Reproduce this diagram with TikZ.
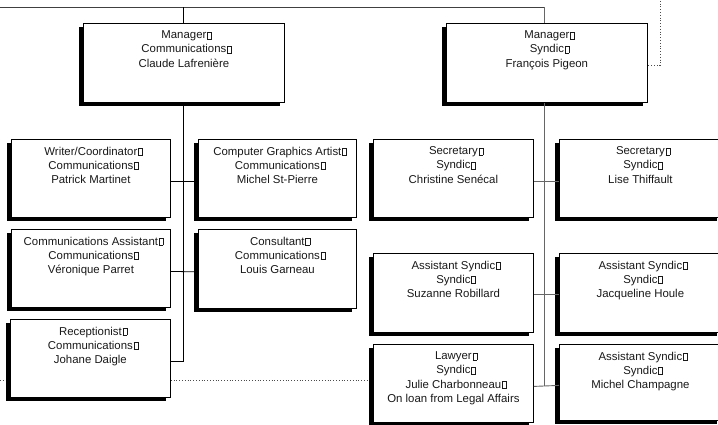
\documentclass[tikz,border=0pt]{standalone}
\usepackage{fontspec}
\setmainfont{Liberation Sans}
\pgfdeclarelayer{bgz}
\pgfsetlayers{bgz,main}
\newcommand\tf{\rlap{\kern0.8pt\setlength\fboxrule{0.5pt}\setlength\fboxsep{0pt}\fbox{\rule{0pt}{6.6pt}\hspace{3.6pt}}}}
\tikzset{
  box/.style={draw=black, line width=0.8pt, fill=white, rectangle, inner sep=0pt, anchor=north west},
  txt/.style={align=center, inner sep=0pt, anchor=north, font=\fontsize{11.4}{14.2}\selectfont, text=black!90},
  connL/.style={draw=black, line width=0.8pt},
  connR/.style={draw=black!60, line width=0.9pt},
  connT/.style={draw=black!75, line width=1pt},
  dotline/.style={draw=black!70, line width=0.8pt, dotted},
}
\newcommand\obox[6]{%
  \path[fill=black] (#2,#3) ++(-4,4) rectangle ++(#4,#5);
  \node[box, minimum width=#4pt, minimum height=#5pt] (#1) at (#2,#3) {};
  \node[txt] (#1t) at ([yshift=-7.6pt]#1.north) {#6};
}
\begin{document}
\begin{tikzpicture}[x=1pt,y=-1pt]
\useasboundingbox (0,0) rectangle (718,424);
\begin{pgfonlayer}{bgz}
\fill[white] (0,0) rectangle (718,424);
\end{pgfonlayer}

% boxes
\obox{M1}{83}{23}{201}{79}{Manager\tf\\Communications\tf\\Claude Lafrenière}
\obox{M2}{446}{23}{201}{79}{Manager\tf\\Syndic\tf\\François Pigeon}

\obox{L1}{11}{139}{159}{78}{Writer/Coordinator\tf\\Communications\tf\\Patrick Martinet}
\obox{R1}{198}{139}{158}{78}{Computer Graphics Artist\tf\\Communications\tf\\Michel St-Pierre}
\obox{L2}{11}{229}{159}{78}{Communications Assistant\tf\\Communications\tf\\Véronique Parret}
\obox{R2}{198}{229}{158}{79}{Consultant\tf\\Communications\tf\\Louis Garneau}
\obox{L3}{10}{319}{160}{78}{Receptionist\tf\\Communications\tf\\Johane Daigle}

\obox{S1}{373}{139}{160}{78}{Secretary\tf\\Syndic\tf\\Christine Senécal}
\obox{S2}{559}{139}{162}{78}{Secretary\tf\\Syndic\tf\\Lise Thiffault}
\obox{S3}{373}{253}{160}{79}{Assistant Syndic\tf\\Syndic\tf\\Suzanne Robillard}
\obox{S4}{559}{253}{162}{79}{Assistant Syndic\tf\\Syndic\tf\\Jacqueline Houle}
\obox{S5}{373}{344}{160}{78}{Lawyer\tf\\Syndic\tf\\Julie Charbonneau\tf\\On loan from Legal Affairs}
\obox{S6}{559}{344}{162}{76}{Assistant Syndic\tf\\Syndic\tf\\Michel Champagne}

% top line
\coordinate (tl) at (0,7);
\coordinate (tm) at (183,7);
\coordinate (tr) at (544,7);
\draw[connT] (tl) -- (tr);
\draw[connL] (tm) -- (tm |- M1.north);
\draw[connR] (tr) -- (tr |- M2.north);

% left tree
\draw[connL] (tm |- M1.south) |- ([yshift=-3pt]L3.east);
\draw[connL] ([yshift=-3pt]L1.east) -- ([yshift=-3pt]R1.west);
\draw[connL] ([yshift=-3pt]L2.east) -- ([yshift=-3pt]R2.west);

% right tree
\coordinate (rb) at ([yshift=-3pt]S5.east);
\draw[connR] (tr |- M2.south) -- (tr |- rb);
\draw[connR] ([yshift=-3pt]S1.east) -- ([yshift=-3pt]S2.west);
\draw[connR] ([yshift=-1.5pt]S3.east) -- ([yshift=-1.5pt]S4.west);
\draw[connR] (rb) -- ([yshift=-3pt]S6.west);

% dotted lines
\coordinate (dr) at (660,-2);
\draw[dotline] (dr) |- ([yshift=-2.5pt]M2.east);
\begin{pgfonlayer}{bgz}
\coordinate (dl) at (0,380);
\draw[dotline] (dl) -- (dl -| S5.west);
\end{pgfonlayer}
\end{tikzpicture}
\end{document}
